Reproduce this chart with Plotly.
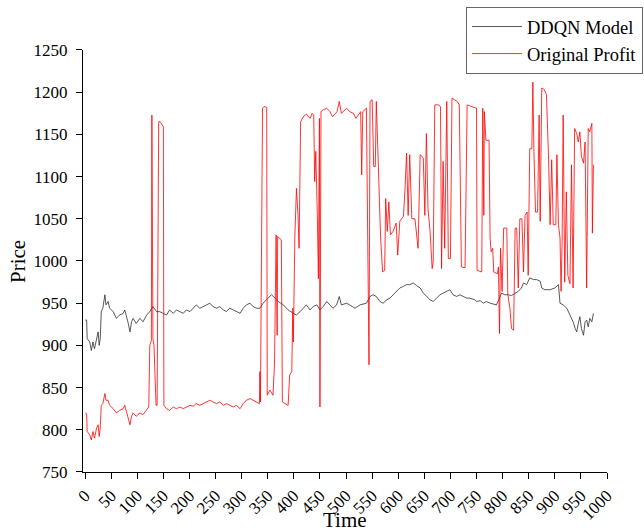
import plotly.graph_objects as go

# ---------------- data ----------------
ddqn_time = [0, 3, 4, 9, 12, 15, 18, 22, 25, 27, 29, 31, 34, 38, 40, 44, 47, 54, 60, 66, 73,
             76, 79, 82, 86, 89, 92, 98, 105, 111, 118, 124, 130, 137, 143, 150, 156, 162, 169,
             175, 182, 188, 194, 201, 207, 213, 220, 226, 233, 239, 245,
             252, 258, 265, 271, 277, 284, 290, 297, 303, 309, 316, 322, 329, 335, 341, 348,
             357, 364, 370, 380, 389, 399, 405, 412, 418, 424, 431, 437, 444, 450, 456, 463,
             469, 475, 482, 487, 491, 498,
             501, 507, 517, 527, 539, 546, 552, 558, 565, 571, 578, 584, 590, 597, 603, 610,
             616, 622, 629, 635, 642, 648, 654, 661, 667, 673, 680, 686, 693, 699, 705, 712,
             718, 725, 731, 737, 747,
             750, 757, 763, 769, 776, 782, 788, 794, 798, 804, 811, 817, 824, 830, 836, 840,
             846, 852, 859, 865, 872, 875, 881, 891, 900, 907, 910, 916, 923, 929, 935, 939,
             942, 945, 948, 951, 955, 958, 961, 964, 967, 971, 974]
ddqn_price = [930, 930, 908, 904, 894, 904, 896, 908, 916, 900, 908, 940, 944, 960, 948, 952, 944,
              940, 932, 936, 938, 942, 936, 928, 916, 928, 932, 926, 932, 928, 936, 940, 946,
              940, 940, 938, 936, 942, 938, 942, 940, 938, 942, 940, 944, 948, 944, 946, 948,
              950, 946,
              944, 946, 942, 940, 944, 942, 940, 938, 944, 948, 950, 946, 944, 944, 950, 954,
              960, 956, 952, 948, 942, 938, 936, 940, 944, 948, 942, 946, 948, 942, 946, 952,
              948, 944, 948, 958, 948, 950,
              950, 948, 944, 948, 950, 958, 960, 958, 952, 950, 954, 956, 960, 964, 968, 970,
              972, 972, 974, 971, 968, 962, 958, 954, 952, 956, 960, 962, 964, 966, 960, 958,
              960, 958, 956, 956, 954,
              952, 953, 950, 952, 950, 949, 948, 956, 962, 960, 960, 959, 962, 964, 968, 974,
              972, 980, 978, 978, 976, 968, 966, 966, 968, 972, 950, 948, 944, 936, 928, 920,
              916, 926, 934, 920, 912, 928, 930, 922, 932, 928, 938]

profit_time = [0, 3, 4, 9, 12, 15, 18, 22, 25, 27, 29, 31, 34, 38, 40, 44, 47, 54, 60, 66, 73,
               76, 79, 82, 86, 89, 92, 98, 105, 111, 118, 122, 124, 127, 128, 130, 132, 136, 138,
               141, 144, 147, 150, 151, 156, 162, 169, 175, 182, 188, 194, 201, 207, 213, 220,
               226, 233, 239, 245,
               252, 258, 265, 271, 277, 284, 290, 297, 303, 309, 316, 322, 329, 334, 335, 336,
               340, 343, 348, 349, 354, 360, 363, 366, 368, 369, 376, 378, 383, 389, 392, 396,
               398, 399, 402, 405, 408, 410, 413, 418, 424, 431, 435, 438, 440, 442, 445, 447,
               449, 450, 452, 456, 463, 469, 474, 479, 483, 487, 491, 498,
               501, 507, 514, 519, 523, 528, 530, 532, 539, 542, 544, 546, 550, 553, 556, 558,
               561, 564, 566, 570, 574, 576, 579, 582, 585, 590, 596, 599, 603, 610, 613, 616,
               619, 622, 626, 632, 638, 642, 648, 651, 654, 657, 661, 665, 667, 670, 677, 681,
               683, 686, 689, 693, 696, 700, 703, 709, 713, 717, 721, 728, 732, 741, 747,
               750, 751, 760, 762, 764, 765, 768, 774, 776, 778, 781, 783, 790, 792, 794, 796,
               799, 802, 808, 810, 814, 817, 821, 824, 827, 830, 833, 837, 840, 843, 847, 849,
               852, 856, 858, 860, 863, 867, 870, 872, 875, 880, 884, 888, 891, 894, 897, 902,
               904, 907, 910, 912, 914, 916, 919, 922, 925, 929, 932, 935, 938, 942, 945, 948,
               951, 955, 958, 961, 964, 967, 971, 972, 974]
profit_price = [820, 819, 798, 794, 788, 798, 790, 802, 806, 792, 802, 829, 831, 843, 835, 835,
                829, 825, 820, 823, 825, 829, 822, 814, 806, 816, 820, 816, 820, 818, 823, 827,
                900, 906, 1173, 908, 900, 829, 829, 1165, 1165, 1161, 1159, 829, 825, 823, 827,
                825, 827, 825, 827, 829, 828, 831, 829, 831, 833, 835, 833,
                831, 833, 829, 831, 829, 827, 829, 825, 831, 835, 837, 835, 833, 831, 869, 833,
                1181, 1183, 1182, 841, 847, 841, 879, 1031, 912, 1029, 1025, 833, 831, 829, 865,
                869, 944, 904, 1031, 1086, 1054, 1015, 1165, 1171, 1174, 1169, 1175, 1173, 1094,
                1130, 1054, 979, 1169, 827, 1177, 1179, 1181, 1177, 1171, 1175, 1177, 1189, 1175,
                1179,
                1181, 1177, 1175, 1169, 1173, 1177, 1102, 1177, 1181, 1007, 877, 1189, 1191, 1112,
                1112, 1189, 1114, 1072, 1031, 987, 989, 1074, 1035, 1070, 1031, 1035, 1045, 1007,
                1047, 1053, 1086, 1128, 1054, 1126, 1050, 1050, 1015, 1126, 1122, 1054, 1151,
                1062, 1035, 991, 999, 1185, 1185, 1183, 991, 1118, 1015, 1189, 1003, 1003, 1193,
                1191, 1189, 1185, 993, 992, 1185, 1183, 1182,
                1181, 989, 987, 1181, 1054, 1177, 1143, 1143, 1027, 1011, 1015, 987, 985, 993,
                914, 1015, 964, 1039, 1039, 960, 944, 920, 918, 1039, 1039, 968, 1050, 1050, 987,
                1054, 1058, 983, 1133, 1133, 1212, 1130, 1058, 1058, 1173, 1047, 1205, 1203, 1197,
                1122, 1043, 1120, 1043, 1043, 1126, 1043, 1027, 964, 1023, 1173, 975, 1082, 983,
                973, 1114, 968, 1157, 1151, 1141, 1153, 1124, 1116, 1141, 968, 1157, 1153, 1163,
                1033, 1114]

x_tick_values = [0, 50, 100, 150, 200, 250, 300, 350, 400, 450, 500, 550, 600, 650, 700, 750,
                 800, 850, 900, 950, 1000]
x_tick_labels = ["0", "50", "100", "150", "200", "250", "300", "350", "400", "450", "500", "550",
                 "600", "650", "700", "750", "800", "850", "900", "950", "1000"]
y_tick_values = [750, 800, 850, 900, 950, 1000, 1050, 1100, 1150, 1200, 1250]
y_tick_labels = ["750", "800", "850", "900", "950", "1000", "1050", "1100", "1150", "1200", "1250"]

series_names = ["DDQN Model", "Original Profit"]
x_title = "Time"
y_title = "Price"

FONT = "Liberation Serif, Times New Roman, serif"

fig = go.Figure()
fig.add_trace(go.Scatter(x=ddqn_time, y=ddqn_price, mode="lines", name=series_names[0],
                         line=dict(color="rgb(45,45,45)", width=0.8)))
fig.add_trace(go.Scatter(x=profit_time, y=profit_price, mode="lines", name=series_names[1],
                         line=dict(color="rgb(255,0,0)", width=0.8)))

axis_common = dict(showgrid=False, zeroline=False, showline=True, linecolor="black",
                   linewidth=1.2, ticks="outside", ticklen=6, tickwidth=1.2, tickcolor="black",
                   tickfont=dict(family=FONT, size=17, color="black"), automargin=False)

# paper area: x 83..644, y 4..472 ; plot area: x 83..607, y 50..472
fig.update_layout(
    width=644, height=532,
    margin=dict(l=83, r=0, t=4, b=60),
    paper_bgcolor="white", plot_bgcolor="white",
    font=dict(family=FONT, color="black"),
    xaxis=dict(domain=[0, 0.93405], range=[-4, 1000], tickmode="array",
               tickvals=x_tick_values, ticktext=x_tick_labels, tickangle=-45,
               **axis_common),
    yaxis=dict(domain=[0, 0.90171], range=[750, 1250], tickmode="array",
               tickvals=y_tick_values, ticktext=y_tick_labels, ticklabelstandoff=5,
               **axis_common),
    legend=dict(x=0.9982, y=0.99359, xanchor="right", yanchor="top",
                bgcolor="white", bordercolor="#666", borderwidth=1,
                font=dict(family=FONT, size=18.5, color="black"),
                tracegroupgap=0, itemwidth=50),
    annotations=[
        dict(text=x_title, xref="paper", yref="paper", x=0.467, y=-0.10256,
             xanchor="center", yanchor="middle", showarrow=False,
             font=dict(family=FONT, size=21, color="black")),
        dict(text=y_title, xref="paper", yref="paper", x=-0.1159, y=0.45085,
             xanchor="center", yanchor="middle", showarrow=False, textangle=-90,
             font=dict(family=FONT, size=21, color="black")),
    ],
    showlegend=True,
)

fig.write_html("out.html", config={"displayModeBar": False},
               post_script="document.body.style.margin='0';document.body.style.overflow='hidden';")
